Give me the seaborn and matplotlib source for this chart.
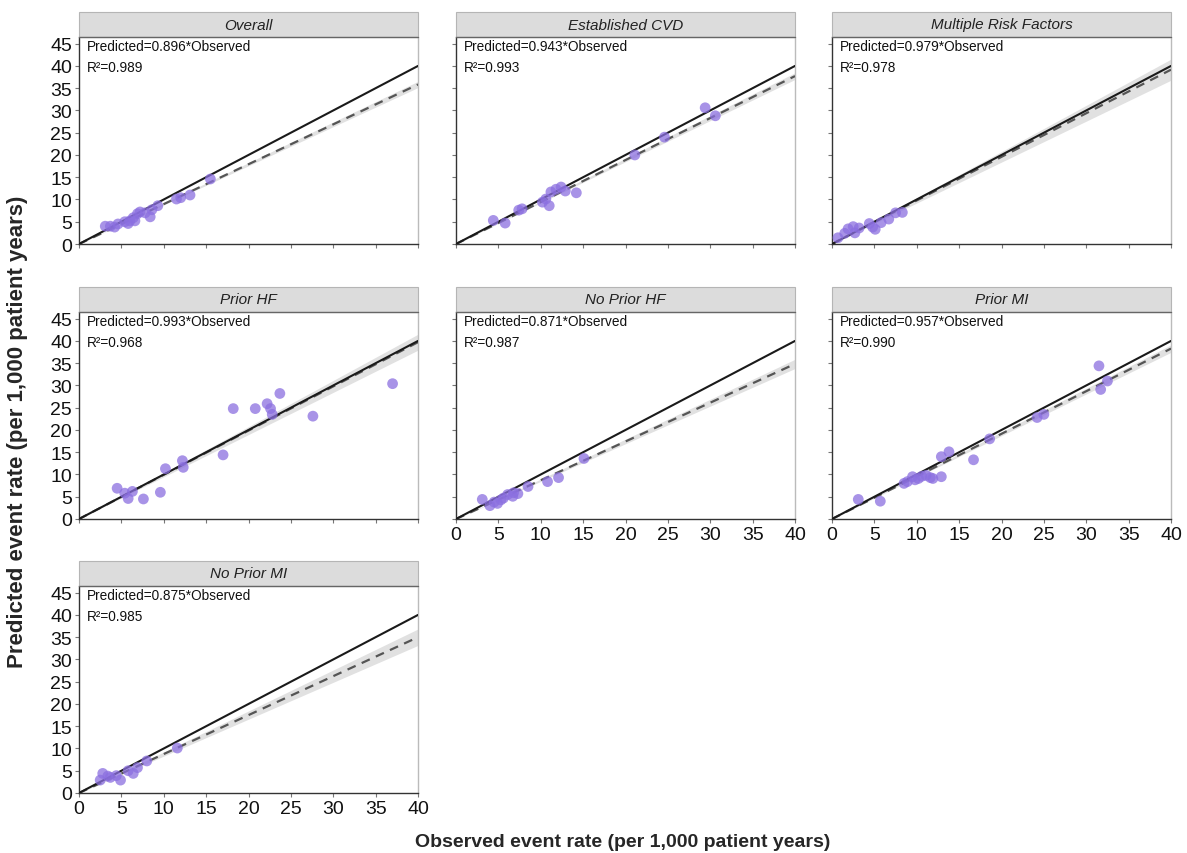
import numpy as np
import pandas as pd
import matplotlib
matplotlib.use("Agg")
import matplotlib.pyplot as plt
from matplotlib.patches import Rectangle
import seaborn as sns

# ---------------- data ----------------
groups = ["Overall", "Established CVD", "Multiple Risk Factors",
          "Prior HF", "No Prior HF", "Prior MI", "No Prior MI"]

obs_overall = [3.1, 3.7, 4.2, 4.6, 5.4, 5.8, 6.0, 6.4, 6.6, 6.9, 7.2, 7.8, 8.4, 8.6, 9.3, 11.5, 12.0, 13.1, 15.5]
pred_overall = [4.0, 4.0, 3.8, 4.5, 5.0, 4.6, 5.2, 5.9, 5.2, 6.8, 7.2, 7.0, 6.1, 7.7, 8.6, 10.1, 10.4, 11.0, 14.6]

obs_cvd = [4.4, 5.8, 7.4, 7.8, 10.2, 10.6, 11.0, 11.2, 11.8, 12.4, 12.9, 14.2, 21.1, 24.6, 29.4, 30.6]
pred_cvd = [5.3, 4.7, 7.6, 7.9, 9.4, 10.1, 8.6, 11.7, 12.3, 12.8, 11.9, 11.5, 20.0, 24.0, 30.6, 28.8]

obs_mrf = [0.7, 1.5, 1.9, 2.5, 2.7, 3.2, 4.4, 4.8, 5.1, 5.8, 6.7, 7.5, 8.3]
pred_mrf = [1.4, 2.4, 3.4, 3.9, 2.5, 3.6, 4.6, 3.8, 3.3, 4.8, 5.6, 7.0, 7.1]

obs_phf = [4.5, 5.4, 5.8, 6.3, 7.6, 9.6, 10.2, 12.2, 12.3, 17.0, 18.2, 20.8, 22.2, 22.6, 22.8, 23.7, 27.6, 37.0]
pred_phf = [6.9, 5.8, 4.6, 6.2, 4.5, 6.0, 11.3, 13.1, 11.6, 14.4, 24.8, 24.8, 25.9, 24.8, 23.5, 28.2, 23.1, 30.4]

obs_nphf = [3.1, 4.0, 4.5, 4.9, 5.3, 5.6, 6.1, 6.7, 6.8, 7.3, 8.5, 10.8, 12.1, 15.1]
pred_nphf = [4.4, 3.0, 3.8, 3.5, 4.3, 4.7, 5.5, 5.1, 5.9, 5.7, 7.3, 8.4, 9.3, 13.6]

obs_pmi = [3.1, 5.7, 8.5, 8.9, 9.5, 9.8, 10.2, 10.6, 11.1, 11.6, 11.9, 12.9, 12.9, 13.8, 16.7, 18.6, 24.2, 25.0, 31.5, 31.7, 32.5]
pred_pmi = [4.4, 4.0, 8.0, 8.4, 9.5, 8.8, 9.1, 9.6, 9.8, 9.3, 9.1, 9.5, 14.0, 15.1, 13.3, 18.0, 22.8, 23.5, 34.4, 29.1, 31.0]

obs_npmi = [2.5, 2.8, 3.4, 3.7, 4.4, 4.9, 5.8, 6.4, 6.9, 8.0, 11.6]
pred_npmi = [2.9, 4.4, 3.8, 3.5, 3.9, 2.9, 5.0, 4.4, 5.7, 7.2, 10.1]

slopes = [0.896, 0.943, 0.979, 0.993, 0.871, 0.957, 0.875]
r_squared = [0.989, 0.993, 0.978, 0.968, 0.987, 0.990, 0.985]

x_ticks = [0, 5, 10, 15, 20, 25, 30, 35, 40]
y_ticks = [0, 5, 10, 15, 20, 25, 30, 35, 40, 45]
line_x = [0, 40]

observed = [obs_overall, obs_cvd, obs_mrf, obs_phf, obs_nphf, obs_pmi, obs_npmi]
predicted = [pred_overall, pred_cvd, pred_mrf, pred_phf, pred_nphf, pred_pmi, pred_npmi]

df = pd.concat([pd.DataFrame({"group": g, "observed": o, "predicted": p})
                for g, o, p in zip(groups, observed, predicted)], ignore_index=True)

# ---------------- style ----------------
sns.set_style("ticks")
plt.rcParams["font.family"] = ["Liberation Sans", "DejaVu Sans"]

W, H = 1187, 854
g = sns.FacetGrid(df, col="group", col_order=groups, col_wrap=3,
                  sharex=True, sharey=True, height=2.5, aspect=1.3, despine=False)
g.figure.set_size_inches(W / 100, H / 100)
g.figure.set_dpi(100)

point_color = "#8B6FE0"
g.map_dataframe(sns.scatterplot, x="observed", y="predicted",
                color=point_color, alpha=0.75, s=60, edgecolor="none", zorder=4)

col_left = [79, 456, 832]
row_top = [38, 313, 587]
ax_w, ax_h = 339, 207
strip_h = 25

for i, (ax, grp) in enumerate(zip(g.axes.flat, groups)):
    r, c = divmod(i, 3)
    left = col_left[c] / W
    bottom = 1 - (row_top[r] + ax_h) / H
    ax.set_position([left, bottom, ax_w / W, ax_h / H])

    xs = np.linspace(0, 40, 100)
    o = np.asarray(observed[i]); p = np.asarray(predicted[i])
    b = slopes[i]
    resid = p - b * o
    s2 = np.sum(resid ** 2) / (len(o) - 1)
    se = np.sqrt(s2 / np.sum(o ** 2))
    band = 1.0 * se * xs
    ax.fill_between(xs, b * xs - band, b * xs + band, color="#BDBDBD",
                    alpha=0.45, linewidth=0, zorder=2)
    ax.plot(line_x, [v * b for v in line_x], color="#555555", lw=1.6,
            dashes=(4, 3), zorder=3)
    ax.plot(line_x, line_x, color="#1a1a1a", lw=1.5, zorder=3)

    ax.set_xlim(0, 40)
    ax.set_ylim(0, 46.5)
    ax.set_xticks(x_ticks)
    ax.set_yticks(y_ticks)
    ax.set_title("")
    ax.set_xlabel("")
    ax.set_ylabel("")
    ax.tick_params(axis="both", labelsize=14, length=3, width=0.8,
                   color="#777777", labelcolor="#111111", pad=2)
    for side in ["left", "bottom"]:
        ax.spines[side].set_color("#333333")
        ax.spines[side].set_linewidth(1.0)
    ax.spines["right"].set_color("#BBBBBB")
    ax.spines["right"].set_linewidth(1.0)
    ax.spines["top"].set_visible(False)

    # strip
    sh = strip_h / ax_h
    ax.add_patch(Rectangle((0, 1), 1, sh, transform=ax.transAxes, clip_on=False,
                           facecolor="#DCDCDC", edgecolor="#B5B5B5", lw=0.8, zorder=5))
    ax.plot([0, 1], [1, 1], transform=ax.transAxes, color="#666666", lw=1.0,
            clip_on=False, zorder=6)
    ax.text(0.5, 1 + sh / 2, grp, transform=ax.transAxes, ha="center", va="center",
            fontsize=11, style="italic", color="#222222", zorder=7)

    ax.text(8 / ax_w, 1 - 9 / ax_h, f"Predicted={b:.3f}*Observed", transform=ax.transAxes,
            ha="left", va="center", fontsize=9.8, color="#111111")
    ax.text(8 / ax_w, 1 - 30 / ax_h, f"R\u00b2={r_squared[i]:.3f}", transform=ax.transAxes,
            ha="left", va="center", fontsize=9.8, color="#111111")

g.figure.text(623 / W, 1 - 843 / H, "Observed event rate (per 1,000 patient years)",
              ha="center", va="center", fontsize=14, fontweight="bold")
g.figure.text(18 / W, 1 - 432 / H, "Predicted event rate (per 1,000 patient years)",
              ha="center", va="center", rotation=90, fontsize=16, fontweight="bold")

g.figure.savefig("out.png", dpi=100)
